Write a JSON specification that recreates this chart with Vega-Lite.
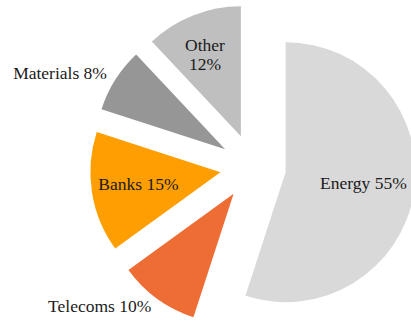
{
  "$schema": "https://vega.github.io/schema/vega-lite/v6.json",
  "width": 411,
  "height": 327,
  "padding": 0,
  "autosize": {"type": "none"},
  "background": "white",
  "view": {"stroke": null},
  "data": {"values": [
    {"cat": "Energy", "value": 55, "label": "Energy 55%"},
    {"cat": "Telecoms", "value": 10, "label": "Telecoms 10%"},
    {"cat": "Banks", "value": 15, "label": "Banks 15%"},
    {"cat": "Materials", "value": 8, "label": "Materials 8%"},
    {"cat": "Other", "value": 12, "label": "Other\n12%"}
  ]},
  "transform": [
    {"window": [{"op": "sum", "field": "value", "as": "cum"}], "frame": [null, 0]},
    {"calculate": "datum.cum - datum.value", "as": "start"},
    {"calculate": "(datum.cum - datum.value / 2) / 100 * 2 * PI", "as": "mid"},
    {"calculate": "33 * sin(datum.mid)", "as": "dx"},
    {"calculate": "33 * cos(datum.mid)", "as": "dy"},
    {"calculate": "split(datum.label, '\\n')", "as": "lines"},
    {"calculate": "max(length(datum.lines[0]), length(datum.lines) > 1 ? length(datum.lines[1]) : 0)", "as": "maxlen"},
    {"calculate": "4.375 * datum.maxlen * abs(sin(datum.mid)) + length(datum.lines) * 9.75 * abs(cos(datum.mid))", "as": "extent"},
    {"calculate": "datum.value < 11 ? 140 : 130 - 6.5 - datum.extent", "as": "lr"},
    {"calculate": "datum.dx + datum.lr * sin(datum.mid)", "as": "lx"},
    {"calculate": "datum.dy + datum.lr * cos(datum.mid)", "as": "ly"}
  ],
  "encoding": {
    "x": {"field": "dx", "type": "quantitative", "scale": {"domain": [-253, 158], "nice": false, "zero": false}, "axis": null},
    "y": {"field": "dy", "type": "quantitative", "scale": {"domain": [-160, 167], "nice": false, "zero": false}, "axis": null}
  },
  "layer": [
    {
      "mark": {"type": "arc", "outerRadius": 130, "stroke": null},
      "encoding": {
        "theta": {"field": "start", "type": "quantitative", "stack": null, "scale": {"domain": [0, 100], "range": [0, 6.283185307]}},
        "theta2": {"field": "cum"},
        "color": {
          "field": "cat", "type": "nominal", "legend": null,
          "scale": {"domain": ["Energy", "Telecoms", "Banks", "Materials", "Other"],
                    "range": ["#d9d9d9", "#ed6d35", "#ff9e00", "#969696", "#bfbfbf"]}
        }
      }
    },
    {
      "transform": [{"filter": "datum.value >= 11"}],
      "mark": {"type": "text", "align": "center", "baseline": "middle", "font": "Liberation Serif", "fontSize": 17.5, "color": "#1a1a1a", "lineBreak": "\n", "lineHeight": 19.5},
      "encoding": {
        "x": {"field": "lx", "type": "quantitative"},
        "y": {"field": "ly", "type": "quantitative"},
        "text": {"field": "label"}
      }
    },
    {
      "transform": [{"filter": "datum.value < 11"}],
      "mark": {"type": "text", "align": "right", "baseline": "middle", "font": "Liberation Serif", "fontSize": 17.5, "color": "#1a1a1a"},
      "encoding": {
        "x": {"field": "lx", "type": "quantitative"},
        "y": {"field": "ly", "type": "quantitative"},
        "text": {"field": "label"}
      }
    }
  ]
}
